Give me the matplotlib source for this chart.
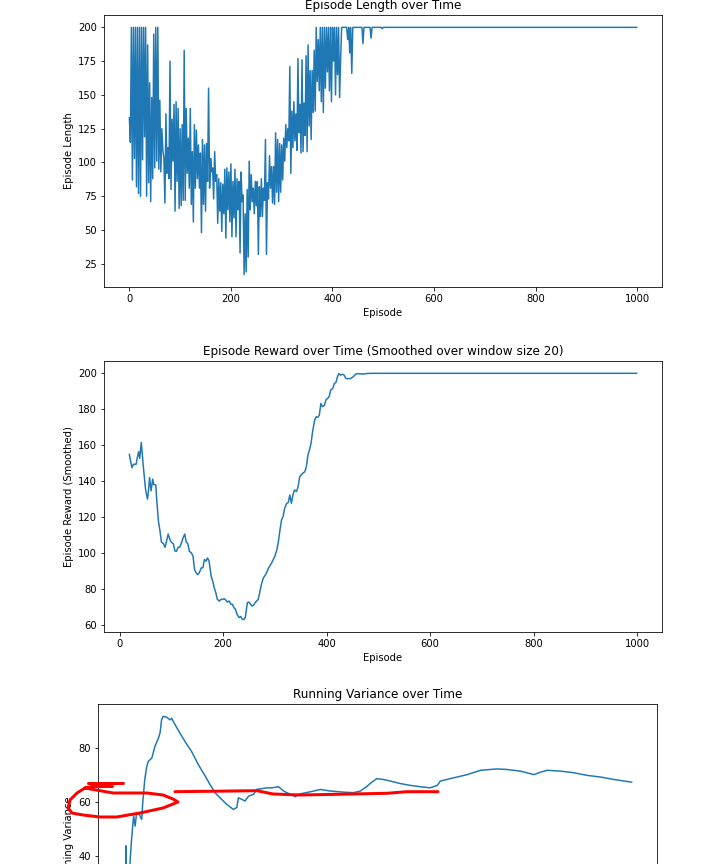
"""Episode length / smoothed reward / running variance (with red hand markup)"""
import numpy as np, matplotlib; matplotlib.use("Agg")
import matplotlib.pyplot as plt
from matplotlib.lines import Line2D

# episode length, read every 2 episodes up to 500, then flat at 200
len_ep = list(range(0, 501, 2)) + [999]
lengths = [
    133,115,200,87,200,103,200,82,200,77,
    200,75,200,102,200,119,200,75,187,85,
    159,71,148,88,195,96,200,101,200,95,
    146,93,125,109,103,70,136,92,111,88,
    175,80,132,101,143,64,145,86,140,66,
    125,68,128,72,183,72,140,92,118,81,
    140,69,108,56,128,81,124,88,113,81,
    107,48,117,69,113,64,114,86,155,81,
    103,93,96,73,108,86,91,55,88,64,
    85,49,84,62,95,44,96,65,93,56,
    99,45,86,59,95,45,88,65,86,33,
    93,71,76,17,62,19,80,30,101,65,
    91,71,81,62,
    86,68,86,32,82,60,88,60,81,72,
    117,32,85,73,105,81,97,70,97,69,
    122,78,117,71,114,78,113,87,118,101,
    128,111,125,116,171,92,138,111,145,116,
    136,109,177,122,143,107,176,108,144,120,
    179,108,187,127,168,117,168,137,183,138,
    200,160,191,153,
    200,145,200,137,200,155,200,167,200,153,
    200,145,200,175,200,150,200,165,200,148,
    176,200,200,200,200,200,200,191,200,181,
    200,166,200,200,200,200,200,200,200,200,
    200,200,188,200,200,200,200,200,200,200,
    192,200,200,200,200,200,200,200,200,200,
    200,199,200,
    200]

# smoothed reward (window 20)
sm_ep = [19,21,24,27,32,34,37,39,42,45,46,50,52,54,56,58,61,64,66,70,
         72,75,78,81,85,88,91,94,97,100,104,107,110,113,116,119,123,126,129,132,
         135,139,142,145,148,151,154,158,161,164,167,170,173,177,180,183,186,189,193,196,
         199,202,205,208,212,215,218,221,224,227,231,234,237,240,243,247,250,253,256,259,
         262,265,268,272,275,278,281,284,288,291,294,297,300,304,307,310,313,316,319,323,
         326,329,332,335,338,342,345,348,351,354,358,361,364,367,370,373,377,380,383,386,
         389,392,396,399,402,405,408,412,415,418,421,424,427,431,434,437,440,443,447,450,
         453,456,459,472,478,491,999]
smoothed = [154.8,151.6,147.4,149.3,149.3,152.6,156.3,152.6,161.5,151,148,136,132.7,129.9,134.5,141.9,134.5,141,138,137.8,
            129,117.9,112.4,105.9,105,103,106.7,110.4,107.6,105.9,105,101,100.8,103,103,105,108.5,110.4,105.9,105,
            100.8,99.9,98,90.6,88.8,87.8,88.8,91.6,91.6,96.2,95.3,97.1,95.3,87,84.2,80.5,77.7,74,73.1,74,
            74,74.4,73.7,72.5,73.1,71.3,71.3,69.4,68.5,65.7,63.8,64.5,63,62.7,64,72.2,72.5,71.3,70.3,70.7,
            72.2,73.1,74,79.6,83.3,86,87.3,88.8,91.6,92.9,94.4,96.2,98,101.7,106.3,112.8,118.3,120.2,124.8,127.6,
            128,132.2,127.6,132.2,135,134.1,136.9,142.4,143.4,144.3,145.2,148,154.5,157.3,161,167.5,174,175.8,175.4,176.7,
            183.2,181.4,182.3,185.4,186,187,190.7,191.6,194.4,194.8,198.1,199.9,199,199.5,199,197.2,197,197,197.2,197.8,
            198.5,199.5,199.8,199.6,199.9,200,200]

# running variance
var_ep = [0,4,5,7,11,13,16,20,23,26,31,36,38,42,46,49,56,62,69,72,
          75,78,85,92,95,98,111,125,134,144,151,161,170,180,190,203,216,223,226,233,
          239,246,256,262,282,292,305,315,328,338,344,374,387,407,433,452,466,479,485,498,
          511,525,544,564,584,603,617,623,649,676,702,721,735,754,780,807,820,833,859,885,
          912,938,964,999]
variance = [0,20,43.7,25,28,37.6,46,54.8,51,56,55.4,53.5,59.7,68.3,73.2,75,76.3,80.6,83.7,85.5,
            90.4,91.7,91.4,90.4,91,89.8,85.5,81.2,78.7,75,72.6,69.5,66.5,63.4,61.5,59.1,57.2,57.9,61.5,60.9,
            60.3,62.1,62.8,64.6,65.2,65.2,65.6,64,62.8,61.9,62.8,64,64.6,64,63.6,63.4,64,65.8,66.8,68.6,
            68.3,67.7,66.8,66.1,65.6,65.2,66.1,67.7,68.9,70.1,71.7,72,72.2,72,71.4,70.1,71,71.7,71.4,70.8,
            69.8,69.2,68.3,67.3]

# red hand-drawn markup, image pixels
mark_line_x = [175,257,273,300,337,387,407,438]
mark_line_y = [791.7,790.7,794,795,794.3,793.3,791.7,791.7]
mark_loop_x = [85,113,147,163,173,178,173,163,140,128,117,100,83,72,68,70,77,85,88]
mark_loop_y = [788,793,793,795,799,802,804,808,813,815,817,817,815,813,808,800,793,788,787]
mark_tick1_x, mark_tick1_y = [88,123], [783,783]
mark_tick2_x, mark_tick2_y = [90,112], [786,786]

W, H = 727, 864
fig = plt.figure(figsize=(W/72, H/72), dpi=72)

ax1 = fig.add_axes([104/W, 1-287/H, 558/W, 272/H])
ax1.plot(len_ep, lengths)
ax1.set_xlabel("Episode"); ax1.set_ylabel("Episode Length")
ax1.set_title("Episode Length over Time")

ax2 = fig.add_axes([104/W, 1-632/H, 558/W, 271/H])
ax2.plot(sm_ep, smoothed)
ax2.set_xlabel("Episode"); ax2.set_ylabel("Episode Reward (Smoothed)")
ax2.set_title("Episode Reward over Time (Smoothed over window size 20)")

# third panel runs off the bottom of the picture (x labels not visible)
ax3 = fig.add_axes([98/W, 1-976/H, 559/W, 272/H])
ax3.plot(var_ep, variance)
ax3.set_ylabel("Running Variance")
ax3.set_title("Running Variance over Time")
ax3.tick_params(axis="x", labelbottom=False)

for xs, ys in [(mark_line_x, mark_line_y), (mark_loop_x, mark_loop_y),
               (mark_tick1_x, mark_tick1_y), (mark_tick2_x, mark_tick2_y)]:
    fig.add_artist(Line2D(np.array(xs)/W, 1-np.array(ys)/H, transform=fig.transFigure,
                          color="red", lw=3, solid_capstyle="round"))

fig.savefig("out.png", dpi=72)
print("saved out.png")
